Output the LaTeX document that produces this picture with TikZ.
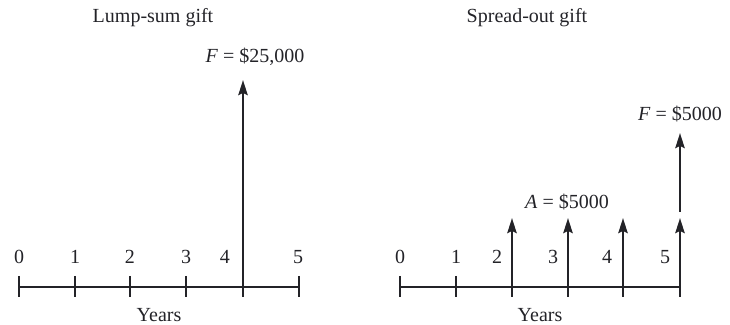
\documentclass[tikz,border=0pt]{standalone}
\usepackage{fontspec}
\setmainfont{Liberation Serif}
\usetikzlibrary{arrows.meta, positioning}
\definecolor{cInk}{RGB}{35,35,40}
\tikzset{
  axisline/.style={line width=0.8pt, color=cInk},
  tickline/.style={line width=0.8pt, color=cInk},
  cashflow/.style={-{Stealth[length=7.5pt, width=4.6pt, inset=1pt]},
                   line width=1.3pt, color=cInk},
  yearlabel/.style={inner sep=0pt, text=cInk, font=\normalsize},
  amountlabel/.style={inner sep=0pt, text=cInk, font=\normalsize},
  titlelabel/.style={inner sep=0pt, text=cInk, font=\normalsize}
}

\begin{document}
\begin{tikzpicture}[x=0.5pt, y=-0.5pt]
  \useasboundingbox (0,0) rectangle (730,325);

  % Titles
  \node[titlelabel] (ttlL) at (153,18) {Lump-sum gift};
  \node[titlelabel] (ttlR) at (527,18) {Spread-out gift};

  % Left time line
  \coordinate (L0) at (19,287);
  \coordinate (L5) at (299,287);
  \draw[axisline] (L0) -- (L5);
  \foreach \x in {19,75,130,186,243,299}
    \draw[tickline] (\x,276) -- (\x,297);
  \node[yearlabel] (yl0) at (19,257) {0};
  \node[yearlabel] (yl1) at (75,257) {1};
  \node[yearlabel] (yl2) at (130,257) {2};
  \node[yearlabel] (yl3) at (186,257) {3};
  \node[yearlabel] (yl4) at (225,257) {4};
  \node[yearlabel] (yl5) at (298,257) {5};
  \node[yearlabel] (yrsL) at (159,315) {Years};

  % Lump-sum cash flow
  \coordinate (L4) at (243,287);
  \coordinate (L4top) at (243,80);
  \draw[cashflow] (L4) -- (L4top);
  \node[amountlabel] (FL) at (255,57) {\textit{F} = \$25,000};

  % Right time line
  \coordinate (R0) at (400,287);
  \coordinate (R5) at (680,287);
  \draw[axisline] (R0) -- (R5);
  \foreach \x in {400,456,512,568,623,680}
    \draw[tickline] (\x,276) -- (\x,297);
  \node[yearlabel] (yr0) at (400,257) {0};
  \node[yearlabel] (yr1) at (456,257) {1};
  \node[yearlabel] (yr2) at (497,257) {2};
  \node[yearlabel] (yr3) at (553,257) {3};
  \node[yearlabel] (yr4) at (607,257) {4};
  \node[yearlabel] (yr5) at (665,257) {5};
  \node[yearlabel] (yrsR) at (540,315) {Years};

  % Spread-out cash flows
  \coordinate (R2) at (512,287);
  \coordinate (R3) at (568,287);
  \coordinate (R4) at (623,287);
  \coordinate (R2top) at (512,218);
  \coordinate (R3top) at (568,218);
  \coordinate (R4top) at (623,218);
  \coordinate (R5top) at (680,218);
  \draw[cashflow] (R2) -- (R2top);
  \draw[cashflow] (R3) -- (R3top);
  \draw[cashflow] (R4) -- (R4top);
  \draw[cashflow] (R5) -- (R5top);
  \node[amountlabel] (AR) at (567,202) {\textit{A} = \$5000};

  % Final amount
  \coordinate (Fbase) at (680,212);
  \coordinate (Ftop) at (680,133);
  \draw[cashflow] (Fbase) -- (Ftop);
  \node[amountlabel] (FR) at (680,114) {\textit{F} = \$5000};

\end{tikzpicture}
\end{document}
